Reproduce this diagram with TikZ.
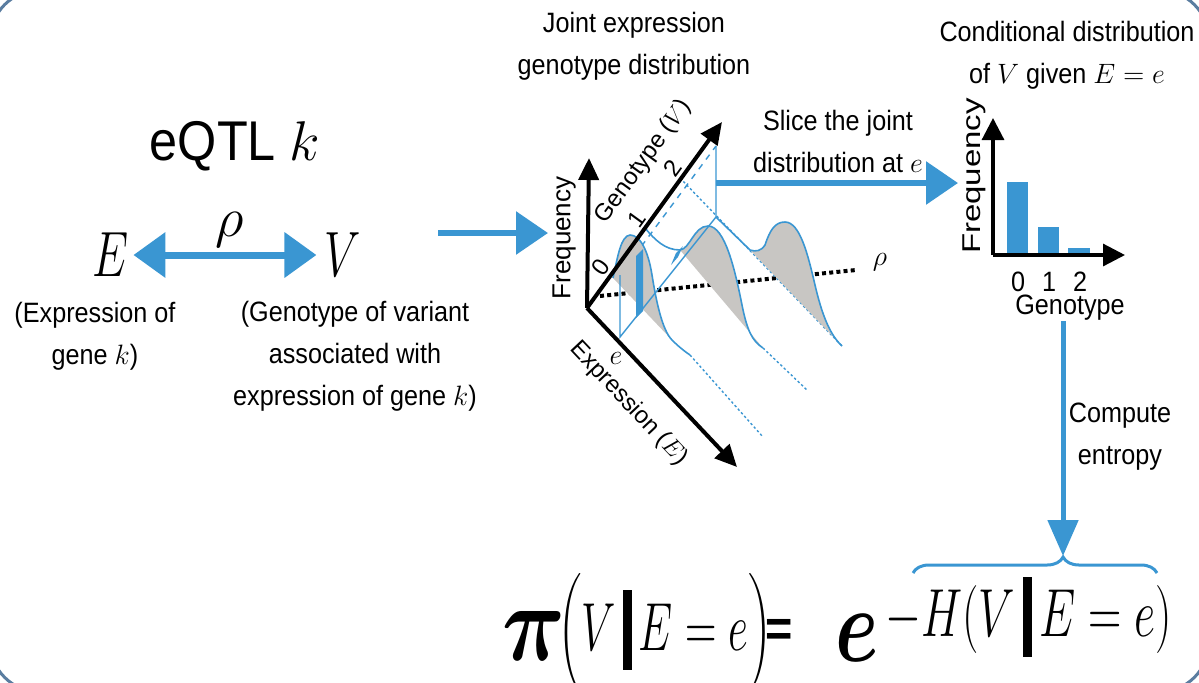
\RequirePackage{fix-cm}
\documentclass[tikz,border=0pt]{standalone}
\usepackage{fontspec}
\setmainfont{Liberation Sans}[FakeStretch=0.9]
\newfontfamily\plainsans{Liberation Sans}
\usepackage{amsmath}
\usepackage{graphicx}
\usetikzlibrary{arrows.meta,decorations.pathreplacing}
\definecolor{eqblue}{RGB}{58,150,210}
\definecolor{humpgray}{RGB}{200,198,195}
\definecolor{framecol}{RGB}{90,125,160}
\newcommand{\nrw}[1]{\scalebox{0.72}[1]{#1}}
\newcommand{\thickbar}{\,\rule[-0.3em]{0.19em}{1.18em}\,}

\begin{document}
\begin{tikzpicture}[x=0.5pt, y=-0.5pt, >=Stealth,
    lbl/.style={font=\fontsize{14}{21}\selectfont, align=center, inner sep=0pt},
    bigmath/.style={font=\fontsize{32}{32}\selectfont, inner sep=0pt},
    blarr/.style={eqblue, line width=3pt, -{Triangle[length=16pt,width=21pt]}},
    dblarr/.style={eqblue, line width=3.5pt, {Triangle[length=16pt,width=22pt]}-{Triangle[length=16pt,width=22pt]}},
    cmparr/.style={eqblue, line width=2.5pt, -{Triangle[length=18pt,width=15pt]}},
    axarr/.style={line width=2pt, -{Triangle[length=11pt,width=10pt]}},
    slc/.style={eqblue, line width=0.7pt},
    humpline/.style={eqblue, line width=0.8pt},
    tail/.style={eqblue, line width=0.7pt, dash pattern=on 1.2pt off 1.2pt},
    rot/.style={font=\plainsans\fontsize{12}{12}\selectfont, inner sep=0pt},
    formula/.style={inner sep=0pt, font=\fontsize{34}{34}\selectfont}]
    \useasboundingbox (0,0) rectangle (1199,682);
    \draw[framecol, line width=1.5pt, rounded corners=25pt] (-10,-10) rectangle (1209,692);

    \node[font=\fontsize{28}{28}\selectfont] (title) at (235,146) {eQTL $k$};
    \node[bigmath] (E) at (111,255) {\nrw{$E$}};
    \node[bigmath] (V) at (343,255) {\nrw{$V$}};
    \draw[dblarr, shorten <=2pt, shorten >=4pt] (E) -- (V);
    \node[font=\fontsize{28}{28}\selectfont] (rho) at (230,230) {$\rho$};
    \node[lbl] (Eexp) at (95,336) {(Expression of\\gene $k$)};
    \node[lbl] (Vexp) at (355,356) {(Genotype of variant\\associated with\\expression of gene $k$)};

    \coordinate (inL) at (438,233);
    \coordinate (inR) at (548,233);
    \draw[blarr] (inL) -- (inR);

    \node[lbl] (jointT) at (634,46) {Joint expression\\genotype distribution};

    \coordinate (O) at (587,308);
    \coordinate (Ftip) at (589,158);
    \coordinate (Gtip) at (722,122);
    \coordinate (Etip) at (737,467);
    \coordinate (G1) at (645,228);
    \coordinate (G2) at (680,178);

    \draw[line width=2pt, dash pattern=on 2pt off 1.6pt] (600,296) -- (856,270);
    \node[font=\fontsize{14}{14}\selectfont] (rhoB) at (880,262) {$\rho$};

    \draw[slc, dashed] (620,275) -- (716,146);
    \draw[tail] (G2) -- (842,346);
    \draw[tail] (690,355) -- (763,437);
    \draw[tail] (763,348) -- (807,390);

    \fill[humpgray] (613,278) .. controls (618,255) and (621,236) .. (630,235)
        .. controls (640,235) and (648,250) .. (652,275)
        .. controls (656,300) and (662,330) .. (672,340) -- cycle;
    \draw[humpline] (613,278) .. controls (618,255) and (621,236) .. (630,235)
        .. controls (640,235) and (648,250) .. (652,275)
        .. controls (656,300) and (662,330) .. (672,340)
        .. controls (678,346) and (684,351) .. (690,355);

    \fill[humpgray] (680,250) .. controls (690,249) and (694,226) .. (708,226)
        .. controls (725,226) and (735,270) .. (742,305)
        .. controls (747,330) and (752,341) .. (763,348) -- cycle;
    \draw[humpline] (G1) .. controls (655,240) and (665,250) .. (680,250)
        .. controls (690,249) and (694,226) .. (708,226)
        .. controls (725,226) and (735,270) .. (742,305)
        .. controls (747,330) and (752,341) .. (763,348);

    \fill[humpgray] (750,250) .. controls (756,252) and (761,251) .. (765,245)
        .. controls (770,230) and (775,222) .. (785,222)
        .. controls (800,222) and (808,255) .. (815,285)
        .. controls (822,315) and (830,335) .. (842,346) -- cycle;
    \draw[humpline] (716,217) -- (750,250) .. controls (756,252) and (761,251) .. (765,245)
        .. controls (770,230) and (775,222) .. (785,222)
        .. controls (800,222) and (808,255) .. (815,285)
        .. controls (822,315) and (830,335) .. (842,346);

    \fill[eqblue] (636,318) -- (643,311) -- (643,249) -- (636,256) -- cycle;
    \fill[eqblue] (671,265) -- (678,257) -- (683,246) -- (676,253) -- cycle;
    \draw[slc] (620,275) -- (620,337) -- (716,217) -- (716,146);

    \draw[axarr] (O) -- (Ftip);
    \draw[axarr] (O) -- (Gtip)
        node[rot, pos=0.18, sloped, above=1pt] (t0) {0}
        node[rot, pos=0.44, sloped, above=1pt] (t1) {1}
        node[rot, pos=0.71, sloped, above=1pt] (t2) {2}
        node[rot, pos=0.66, sloped, above=13.5pt] (geno3) {Genotype ($V$)};
    \draw[axarr] (O) -- (Etip)
        node[rot, pos=0.45, sloped, below=11pt] (expr3) {Expression ($E$)};

    \node[rot, font=\plainsans\fontsize{13}{13}\selectfont, rotate=90] (freq3) at (564,238) {Frequency};
    \node[font=\fontsize{14}{14}\selectfont] (e3) at (616,358) {$e$};

    \node[lbl] (sliceT) at (838,141) {Slice the joint\\distribution at $e$};
    \coordinate (sl0) at (716,183);
    \coordinate (sl1) at (958,183);
    \draw[blarr] (sl0) -- (sl1);

    \node[lbl] (condT) at (1067,55) {Conditional distribution\\of $V$ given $E=e$};
    \coordinate (HO) at (993,255);
    \coordinate (Hy) at (993,118);
    \coordinate (Hx) at (1125,255);
    \fill[eqblue] (1007,255) rectangle (1028,182);
    \fill[eqblue] (1038,255) rectangle (1059,227);
    \fill[eqblue] (1068,255) rectangle (1090,248);
    \draw[line width=1.6pt, -{Triangle[length=11pt,width=11pt]}] (HO) -- (Hy);
    \draw[line width=1.6pt, -{Triangle[length=11pt,width=11pt]}] (HO) -- (Hx);
    \node[rot, font=\plainsans\fontsize{16.5}{16.5}\selectfont, rotate=90] (hfreq) at (974,176) {\scalebox{1}[0.78]{Frequency}};
    \node[lbl] (h0) at (1018,282) {0};
    \node[lbl] (h1) at (1049,282) {1};
    \node[lbl] (h2) at (1080,282) {2};
    \node[lbl] (hgen) at (1070,308) {Genotype};

    \coordinate (brtip) at (1063,556);
    \draw[cmparr] (hgen.south -| brtip) -- (brtip);
    \node[lbl] (cmpT) at (1120,437) {Compute\\entropy};
    \draw[eqblue, line width=1.5pt, decorate,
        decoration={brace, amplitude=8pt, aspect=0.615}] (913,573) -- (1157,573);

    \node[inner sep=0pt, font=\fontsize{46}{46}\selectfont] (piF) at (534,636) {\scalebox{0.95}[1.2]{$\boldsymbol{\pi}$}};
    \node[formula, anchor=west] (lhsF) at (558,633) {\scalebox{0.64}[1]{$\Bigl(V\thickbar E=e\Bigr)$}};
    \node[inner sep=0pt, font=\fontsize{26}{26}\selectfont\bfseries] (eqF) at (779,633) {=};
    \node[inner sep=0pt, font=\fontsize{46}{46}\selectfont] (expF) at (857,638) {\scalebox{0.85}[1.15]{$\boldsymbol{e}$}};
    \node[formula, anchor=west] (supF) at (885,617) {\scalebox{0.68}[1]{$-H(V\thickbar E=e)$}};
\end{tikzpicture}
\end{document}
